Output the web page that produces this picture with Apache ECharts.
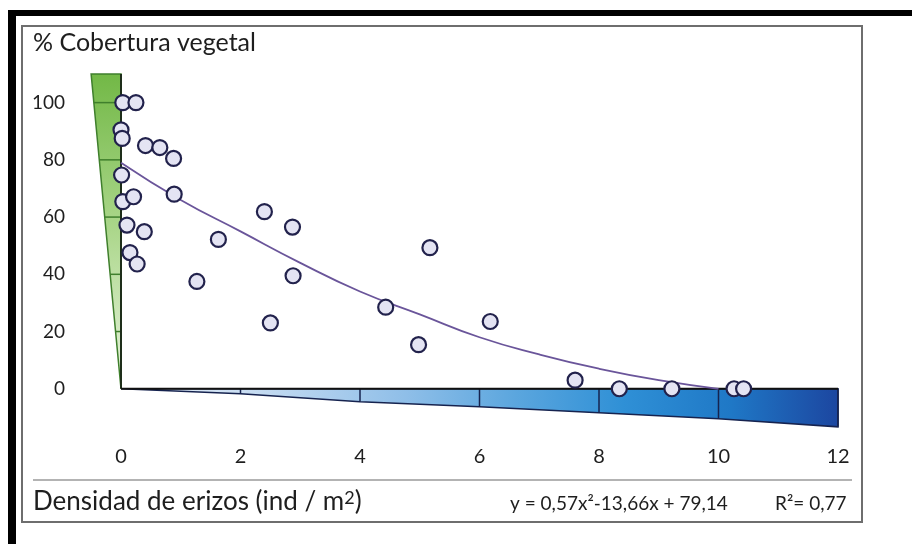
<!DOCTYPE html>
<html><head><meta charset="utf-8">
<script src="https://cdn.jsdelivr.net/npm/echarts@6/dist/echarts.min.js"></script>
<style>html,body{margin:0;padding:0;background:#fff}#c{width:912px;height:544px}</style>
</head><body><div id="c"></div>
<script>
// ---- data ----
const densidad  = [0.03,0.25,0.00,0.02,0.41,0.65,0.88,0.01,0.89,0.03,0.21,-0.05,0.10,0.39,0.15,0.27,1.63,2.40,2.87,5.17,1.27,2.88,2.50,4.43,4.98,6.18,7.60,8.34,9.22,10.26,10.42];
const cobertura = [100,100,90.5,87.5,85,84.3,80.5,74.7,68,65.4,67.1,55.7,57.2,54.9,47.6,43.6,52.2,61.9,56.5,49.3,37.5,39.5,23,28.5,15.4,23.5,3,0,0,0,0];
const trendX = [0,1,2,3,4,5,6,7,8,9,10];
const trendY = [79,66,55,44,34,26,18,12,7,3,0];
const yTickLabels = [0,20,40,60,80,100];
const greenBands = [0,20,40,60,80,100,110];
const greenTop = 110, greenWidth = 0.5;
const blueX = [0,2,4,6,8,10,12];
const blueDepth = [0,-1.7,-4.5,-6.3,-8.4,-10.5,-13.3];
const titleY = '% Cobertura vegetal';
const equation = 'y = 0,57x²-13,66x + 79,14';
const r2 = 'R²= 0,77';

const FONT = 'Lato';
const chart = echarts.init(document.getElementById('c'));

function greenWedge(params, api){
  const poly = [api.coord([0,0]), api.coord([0,greenTop]), api.coord([-greenWidth,greenTop])];
  const children = [{
    type:'polygon', shape:{points:poly},
    style:{fill:{type:'linear',x:0,y:0,x2:0,y2:1,colorStops:[
      {offset:0,color:'#72b846'},{offset:0.5,color:'#acd78c'},{offset:1,color:'#eaf5e0'}]},
      stroke:'#3f7f2c', lineWidth:1.5}
  }];
  greenBands.slice(1,-1).forEach(v=>{
    const a = api.coord([-greenWidth*v/greenTop, v]), b = api.coord([0,v]);
    children.push({type:'line',shape:{x1:a[0],y1:a[1],x2:b[0],y2:b[1]},style:{stroke:'#3f7f2c',lineWidth:1.5}});
  });
  const t = api.coord([0,greenTop]), o = api.coord([0,0]);
  children.push({type:'line',shape:{x1:o[0],y1:o[1],x2:t[0],y2:t[1]},style:{stroke:'#1e2e1a',lineWidth:2}});
  return {type:'group',children};
}
function blueWedge(params, api){
  const pts = blueX.map(x=>api.coord([x,0]));
  for(let i=blueX.length-1;i>=0;i--) pts.push(api.coord([blueX[i],blueDepth[i]]));
  const children = [{
    type:'polygon', shape:{points:pts},
    style:{fill:{type:'linear',x:0,y:0,x2:1,y2:0,colorStops:[
      {offset:0,color:'#f0f5fb'},{offset:0.2,color:'#c3daf1'},{offset:0.4,color:'#8ebee8'},
      {offset:0.55,color:'#5ba6de'},{offset:0.7,color:'#2f90d6'},{offset:0.85,color:'#1f78c6'},{offset:1,color:'#1c46a0'}]},
      stroke:'#16234f', lineWidth:1.5}
  }];
  for(let i=1;i<blueX.length;i++){
    const a = api.coord([blueX[i],0]), b = api.coord([blueX[i],blueDepth[i]]);
    children.push({type:'line',shape:{x1:a[0],y1:a[1],x2:b[0],y2:b[1]},style:{stroke:'#16234f',lineWidth:1.5}});
  }
  const a = api.coord([0,0]), b = api.coord([blueX[blueX.length-1],0]);
  children.push({type:'line',shape:{x1:a[0],y1:a[1],x2:b[0],y2:b[1]},style:{stroke:'#111',lineWidth:2}});
  return {type:'group',children};
}

chart.setOption({
  animation:false,
  backgroundColor:'#fff',
  grid:{left:121,right:74,top:74,bottom:98,containLabel:false},
  xAxis:{type:'value',min:0,max:12,interval:2,
    axisLine:{show:false},axisTick:{show:false},splitLine:{show:false},
    axisLabel:{margin:1,fontFamily:FONT,fontSize:20,color:'#1e1e1e'}},
  yAxis:{type:'value',min:-20,max:110,interval:20,
    axisLine:{show:false},axisTick:{show:false},splitLine:{show:false},
    axisLabel:{margin:56,fontFamily:FONT,fontSize:19,color:'#1e1e1e',
      formatter:v=>yTickLabels.includes(v)?String(v):''}},
  graphic:[
    {type:'rect',shape:{x:8,y:10,width:904,height:6},style:{fill:'#000'}},
    {type:'rect',shape:{x:8,y:10,width:8,height:534},style:{fill:'#000'}},
    {type:'rect',shape:{x:22,y:26,width:840,height:496},style:{fill:'none',stroke:'#6e6e6e',lineWidth:2}},
    {type:'line',shape:{x1:33,y1:480,x2:852,y2:480},style:{stroke:'#9a9a9a',lineWidth:1.5}},
    {type:'text',left:33,top:30,style:{text:titleY,font:'25px '+FONT,fill:'#1e1e1e'}},
    {type:'text',left:33,top:489,style:{text:'Densidad de erizos (ind / m{s|2})',font:'26px '+FONT,fill:'#1e1e1e',
      rich:{s:{fontSize:18,fontFamily:FONT,fill:'#1e1e1e',padding:[0,0,8,0]}}}},
    {type:'text',left:510,top:494,style:{text:equation,font:'19px '+FONT,fill:'#1e1e1e'}},
    {type:'text',left:775,top:494,style:{text:r2,font:'19px '+FONT,fill:'#1e1e1e'}}
  ],
  series:[
    {type:'custom',renderItem:greenWedge,data:[0],clip:false,silent:true,z:1},
    {type:'custom',renderItem:blueWedge,data:[0],clip:false,silent:true,z:1},
    {type:'line',data:trendX.map((x,i)=>[x,trendY[i]]),smooth:true,showSymbol:false,
      lineStyle:{color:'#6a559a',width:1.8},z:2},
    {type:'scatter',data:densidad.map((x,i)=>[x,cobertura[i]]),symbolSize:15,
      itemStyle:{color:'#e4e4f3',borderColor:'#22224c',borderWidth:2.2,opacity:1},z:3}
  ]
});
</script></body></html>
